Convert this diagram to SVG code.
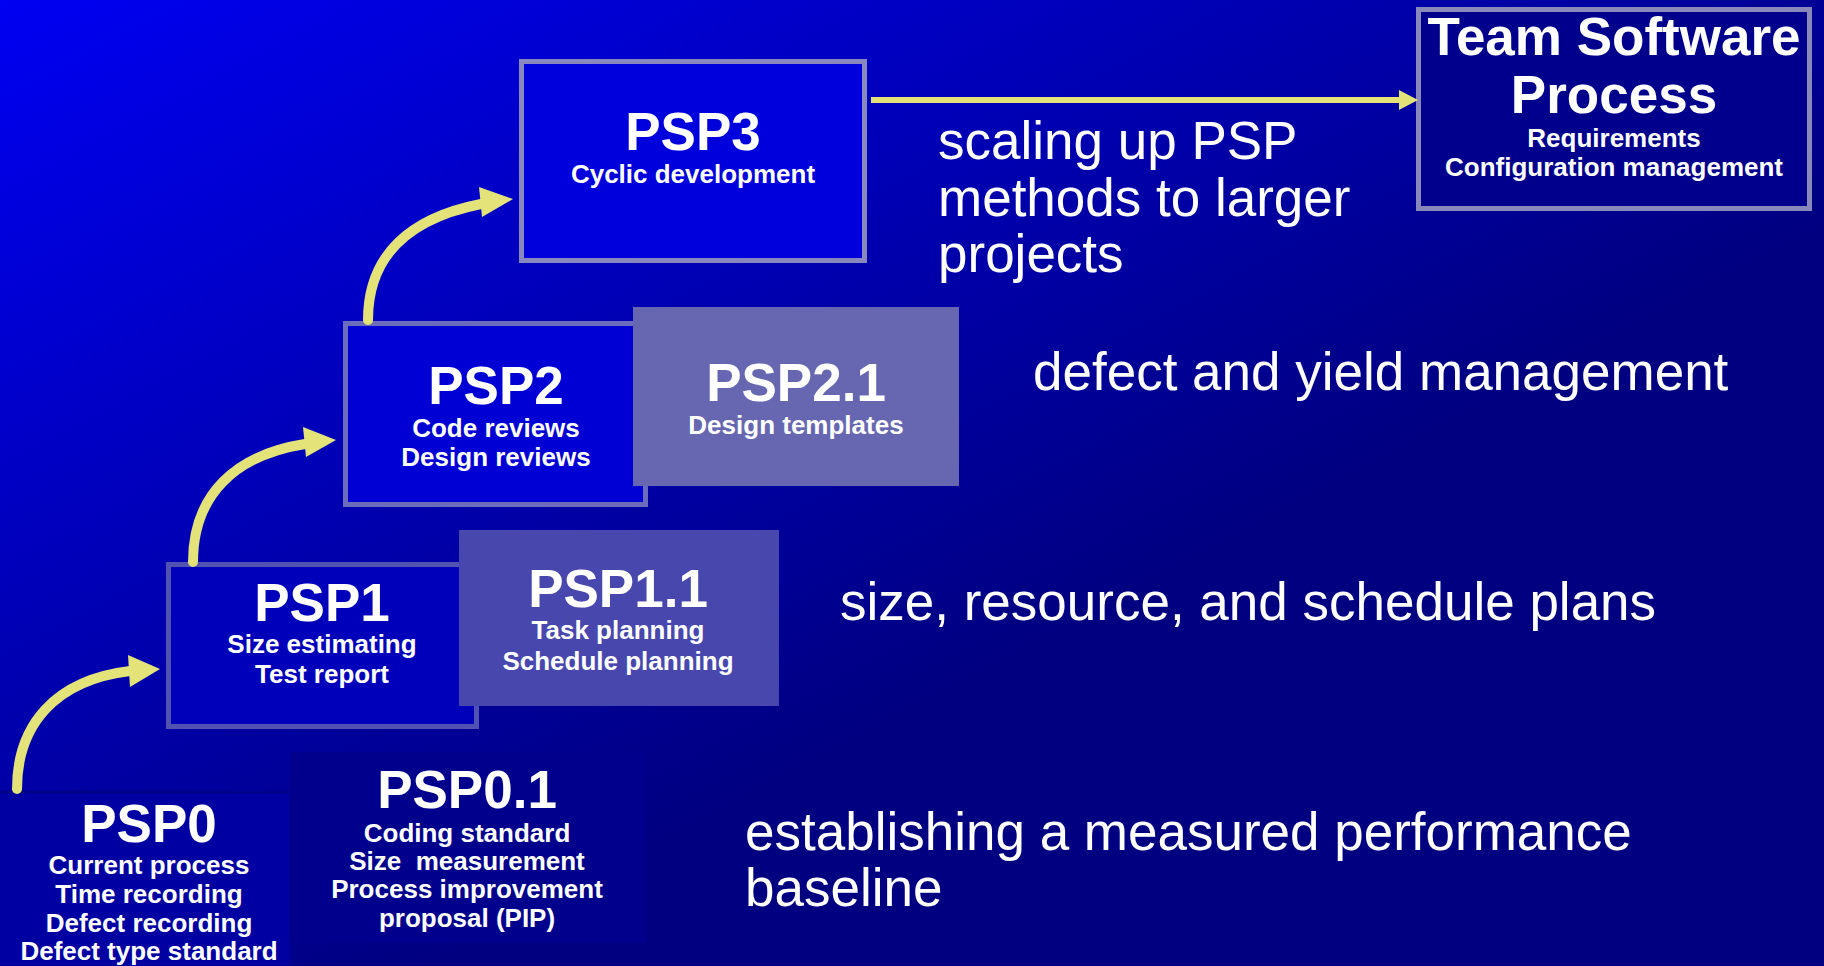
<svg xmlns="http://www.w3.org/2000/svg" width="1824" height="966" viewBox="0 0 1824 966">
  <defs>
    <linearGradient id="bg" x1="0" y1="0" x2="1" y2="1">
      <stop offset="0" stop-color="#0000F2"/>
      <stop offset="0.62" stop-color="#000080"/>
      <stop offset="1" stop-color="#000080"/>
    </linearGradient>
    <style>
      text { font-family: "Liberation Sans", Arial, sans-serif; fill: #FFFFFF; }
      .title { font-size: 53px; font-weight: bold; text-anchor: middle; }
      .sub { font-size: 26px; font-weight: bold; text-anchor: middle; }
      .note { font-size: 53px; }
      .arc { fill: none; stroke: #E3E37A; stroke-width: 10; stroke-linecap: round; }
      .head { fill: #E3E37A; }
      .line { fill: none; stroke: #E3E37A; stroke-width: 6; }
    </style>
  </defs>

  <rect x="0" y="0" width="1824" height="966" fill="url(#bg)"/>

  <!-- stage boxes -->
  <g id="psp0">
    <rect x="-10" y="792" width="301" height="200" fill="#0000A2" stroke="#00008E" stroke-width="4"/>
    <text class="title" x="149" y="842">PSP0</text>
    <text class="sub" x="149" y="874">Current process</text>
    <text class="sub" x="149" y="903">Time recording</text>
    <text class="sub" x="149" y="932">Defect recording</text>
    <text class="sub" x="149" y="960">Defect type standard</text>
  </g>

  <g id="psp01">
    <rect x="290" y="752" width="356" height="191" fill="#00008C"/>
    <text class="title" x="467" y="808">PSP0.1</text>
    <text class="sub" x="467" y="842">Coding standard</text>
    <text class="sub" x="467" y="870" xml:space="preserve">Size  measurement</text>
    <text class="sub" x="467" y="898">Process improvement</text>
    <text class="sub" x="467" y="927">proposal (PIP)</text>
  </g>

  <g id="psp1">
    <rect x="168.5" y="564.5" width="308" height="162" fill="#0000BB" stroke="#5252B2" stroke-width="5"/>
    <text class="title" x="322" y="621">PSP1</text>
    <text class="sub" x="322" y="653">Size estimating</text>
    <text class="sub" x="322" y="683">Test report</text>
  </g>

  <g id="psp11">
    <rect x="459" y="530" width="320" height="176" fill="#4747AE"/>
    <text class="title" x="618" y="607">PSP1.1</text>
    <text class="sub" x="618" y="639">Task planning</text>
    <text class="sub" x="618" y="670">Schedule planning</text>
  </g>

  <g id="psp2">
    <rect x="345.5" y="323.5" width="300" height="181" fill="#0000D4" stroke="#6C6CBC" stroke-width="5"/>
    <text class="title" x="496" y="404">PSP2</text>
    <text class="sub" x="496" y="437">Code reviews</text>
    <text class="sub" x="496" y="466">Design reviews</text>
  </g>

  <g id="psp21">
    <rect x="633" y="307" width="326" height="179" fill="#6767B1"/>
    <text class="title" x="796" y="401">PSP2.1</text>
    <text class="sub" x="796" y="434">Design templates</text>
  </g>

  <g id="psp3">
    <rect x="521.5" y="61.5" width="343" height="199" fill="#0000DD" stroke="#8888BE" stroke-width="5"/>
    <text class="title" x="693" y="150">PSP3</text>
    <text class="sub" x="693" y="183">Cyclic development</text>
  </g>

  <g id="tsp">
    <rect x="1418.5" y="9.5" width="391" height="199" fill="#00008C" stroke="#8888BA" stroke-width="5"/>
    <text class="title" x="1614" y="55">Team Software</text>
    <text class="title" x="1614" y="113">Process</text>
    <text class="sub" x="1614" y="147">Requirements</text>
    <text class="sub" x="1614" y="176">Configuration management</text>
  </g>

  <!-- connectors -->
  <g id="connectors">
    <path class="arc" d="M17,789 C17,725 55,680 130,671"/>
    <polygon class="head" points="128,655 160,669 130,687"/>
    <path class="arc" d="M193,562 C193,495 235,455 305,444"/>
    <polygon class="head" points="303,427 336,440 306,457"/>
    <path class="arc" d="M368,320 C368,255 410,218 481,204"/>
    <polygon class="head" points="479,187 513,199 482,217"/>
    <line class="line" x1="871" y1="100" x2="1402" y2="100"/>
    <polygon class="head" points="1399,90 1418,100 1399,110"/>
  </g>

  <!-- level descriptions -->
  <g id="notes">
    <text class="note" x="938" y="159">scaling up PSP</text>
    <text class="note" x="938" y="216">methods to larger</text>
    <text class="note" x="938" y="272">projects</text>
    <text class="note" x="1033" y="390">defect and yield management</text>
    <text class="note" x="840" y="620">size, resource, and schedule plans</text>
    <text class="note" x="745" y="850">establishing a measured performance</text>
    <text class="note" x="745" y="906">baseline</text>
  </g>
</svg>
